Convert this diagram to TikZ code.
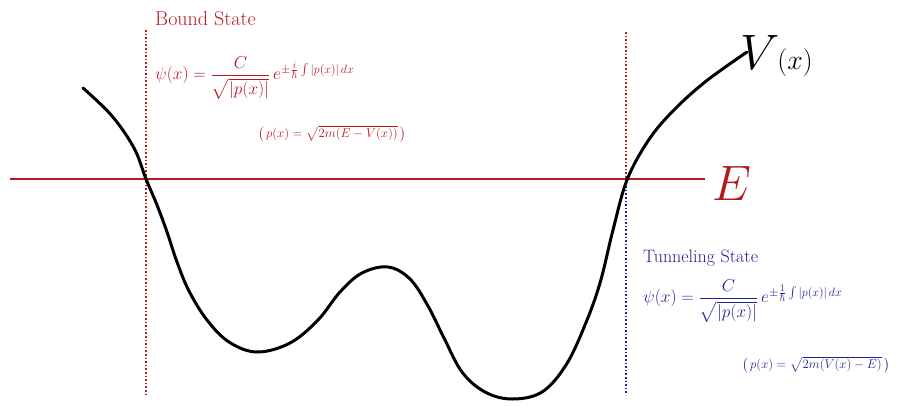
\documentclass[tikz,border=0pt]{standalone}
\usepackage{amsmath}
\usepackage{graphicx}
\definecolor{bred}{RGB}{180,25,30}
\definecolor{bblue}{RGB}{30,35,150}
\tikzset{
  eline/.style={bred, line width=2pt},
  redguide/.style={bred, line width=1.6pt, dotted},
  blueguide/.style={bblue, line width=1.6pt, dotted},
  pot/.style={black, line width=3pt, line cap=round, line join=round},
  title/.style={anchor=west, inner sep=0pt, font=\fontsize{20}{24}\selectfont},
  formula/.style={anchor=west, inner sep=0pt, font=\LARGE},
  pform/.style={anchor=west, inner sep=0pt, font=\large},
}
\begin{document}
\begin{tikzpicture}[x=1pt,y=-1pt]
\useasboundingbox (0,0) rectangle (900,405);
% E line
\coordinate (e0) at (10,179);
\coordinate (e1) at (705,179);
\draw[eline] (e0) -- (e1);
\node[bred, anchor=west, inner sep=0pt, font=\Huge] (E) at (712,183) {\scalebox{2}{$E$}};
% guides
\coordinate (l0) at (146,30);
\coordinate (l1) at (146,395);
\draw[redguide] (l0) -- (l1);
\coordinate (r0) at (626,32);
\coordinate (rm) at (626,179);
\coordinate (r1) at (626,395);
\draw[redguide] (r0) -- (rm);
\draw[blueguide] (rm) -- (r1);
% potential
\draw[pot] plot[smooth, tension=0.6] coordinates {
 (83,88) (112,116) (134,148) (146,179) (157,205) (167,232) (177,262) (189,291)
 (207,320) (229,342) (257,352) (290,343) (318,320) (340,292) (362,273) (388,267)
 (410,279) (428,306) (444,338) (462,372) (485,392) (512,399) (542,392) (566,365)
 (585,325) (600,283) (613,230) (627,180) (648,141) (672,112) (705,82) (747,52)};
\node[anchor=west, inner sep=0pt, font=\Huge] (V) at (740,56) {\scalebox{2}{$V$}\hspace{-2pt}\scalebox{1.12}{$(x)$}};
% bound state
\node[title, bred] (bt) at (155,19) {\scalebox{1.0}{Bound State}};
\node[formula, bred] (bf) at (155,78) {$\psi(x)=\dfrac{C}{\sqrt{|p(x)|}}\,e^{\pm\frac{i}{\hbar}\int|p(x)|\,dx}$};
\node[pform, bred] (bp) at (258,134) {\scalebox{1.06}{$\bigl(\,p(x)=\sqrt{2m(E-V(x))}\,\bigr)$}};
% tunneling state
\node[title, bblue] (tt) at (643,258) {\scalebox{0.9}{Tunneling State}};
\node[formula, bblue] (tf) at (643,301) {$\psi(x)=\dfrac{C}{\sqrt{|p(x)|}}\,e^{\pm\frac{1}{\hbar}\int|p(x)|\,dx}$};
\node[pform, bblue] (tp) at (742,365) {\scalebox{1.06}{$\bigl(\,p(x)=\sqrt{2m(V(x)-E)}\,\bigr)$}};
\end{tikzpicture}
\end{document}
